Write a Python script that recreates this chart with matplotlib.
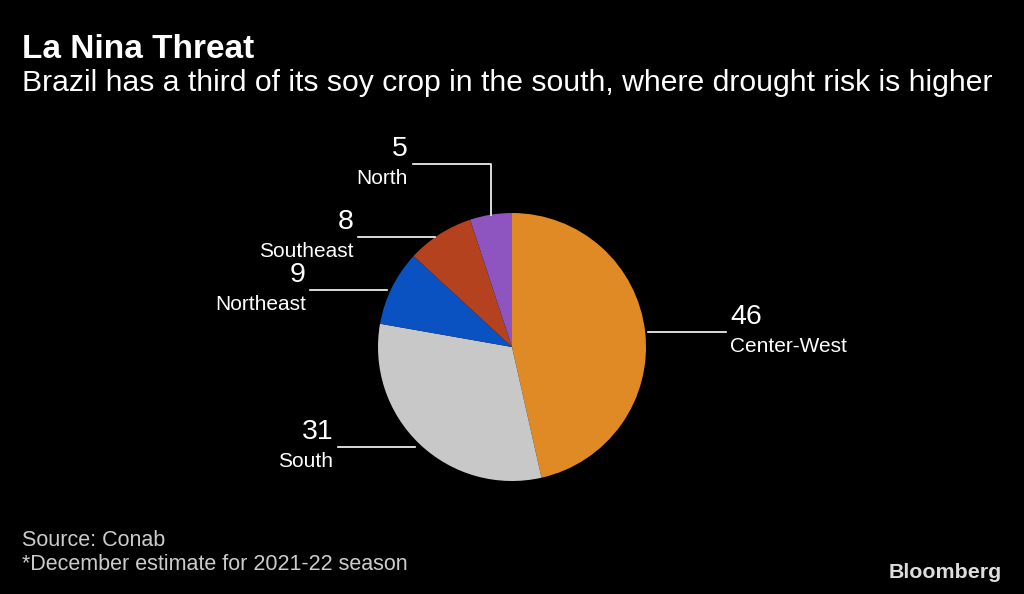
import numpy as np
import matplotlib.pyplot as plt

regions = ['Center-West', 'South', 'Northeast', 'Southeast', 'North']
shares = [46, 31, 9, 8, 5]
colors = ['#E08A26', '#C8C8C8', '#0A52C2', '#B5421E', '#8E55C0']

W, H = 1024, 594
fig = plt.figure(figsize=(W / 100, H / 100), dpi=100, facecolor='black')
ax = fig.add_axes([0, 0, 1, 1])
ax.set_xlim(0, W)
ax.set_ylim(0, H)
ax.set_aspect('equal')
ax.axis('off')

def fy(y):
    # pixel row from top -> data y
    return H - y

cx, cy, r = 512, fy(347), 134
wedges, _ = ax.pie(shares, colors=colors, startangle=90, counterclock=False,
                   center=(cx, cy), radius=r, frame=True,
                   wedgeprops=dict(linewidth=0))
ax.set_xlim(0, W)
ax.set_ylim(0, H)
ax.axis('off')

font = 'Liberation Sans'
line_kw = dict(color='white', lw=1.2)
for w, name, val in zip(wedges, regions, shares):
    mid = np.deg2rad((w.theta1 + w.theta2) / 2)
    ax_x = cx + r * np.cos(mid)
    ax_y = cy + r * np.sin(mid)
    if name == 'North':
        ly = fy(164)
        x0 = ax_x - 78
        ax.plot([x0, ax_x, ax_x], [ly, ly, ax_y], **line_kw)
        tx, ha = x0 - 5, 'right'
    elif ax_x > cx:
        ly = ax_y
        x0 = ax_x + 3
        ax.plot([x0, x0 + 78], [ly, ly], **line_kw)
        tx, ha = x0 + 82, 'left'
    else:
        ly = ax_y - 3
        x0 = ax_x - 82
        ax.plot([x0, ax_x - 5], [ly, ly], **line_kw)
        tx, ha = x0 - 4, 'right'
    ax.text(tx, ly + 8, str(val), color='white', fontsize=20.5, ha=ha, va='baseline',
            family=font)
    ax.text(tx, ly - 5, name, color='white', fontsize=15, ha=ha, va='top',
            family=font)

fig.text(22 / W, 1 - 49 / H, 'La Nina Threat', color='white', fontsize=24,
         fontweight='bold', va='center', ha='left', family=font)
fig.text(22 / W, 1 - 83 / H, 'Brazil has a third of its soy crop in the south, where drought risk is higher',
         color='white', fontsize=21.7, va='center', ha='left', family=font)
fig.text(22 / W, 1 - 541 / H, 'Source: Conab', color='#CCCCCC', fontsize=15.5,
         va='center', ha='left', family=font)
fig.text(22 / W, 1 - 565 / H, '*December estimate for 2021-22 season', color='#CCCCCC',
         fontsize=15.5, va='center', ha='left', family=font)
fig.text(1002 / W, 1 - 573 / H, 'Bloomberg', color='#DDDDDD', fontsize=15.4,
         fontweight='bold', va='center', ha='right', family=font)

fig.savefig('out.png', dpi=100, facecolor='black')
